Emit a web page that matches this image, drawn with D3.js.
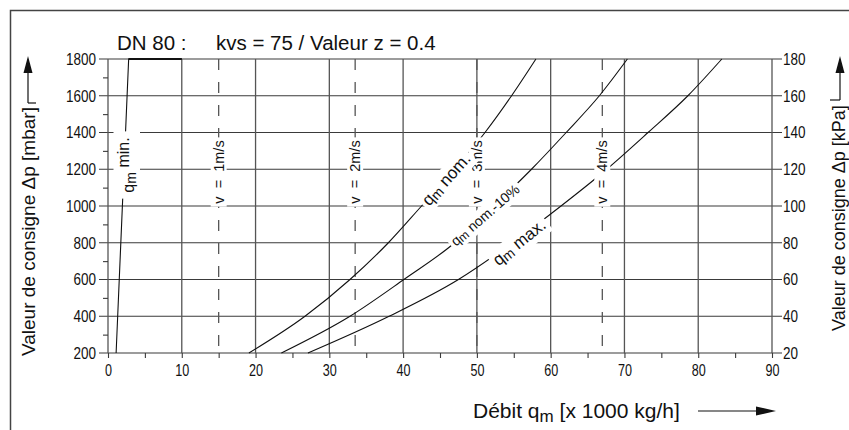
<!DOCTYPE html>
<html>
<head>
<meta charset="utf-8">
<script src="https://cdn.jsdelivr.net/npm/d3@7"></script>
<style>
  html, body { margin: 0; padding: 0; background: #fff; }
  svg { display: block; }
  text { font-family: "Liberation Sans", Arial, sans-serif; fill: #111; }
  .tick text { font-family: "Liberation Sans Narrow", "Liberation Sans", sans-serif; }
</style>
</head>
<body>
<svg id="chart" width="849" height="430"></svg>
<script>
// ---------------- data ----------------
const title1 = "DN 80 :";
const title2 = "kvs = 75 / Valeur z = 0.4";
const xTicks = [0, 10, 20, 30, 40, 50, 60, 70, 80, 90];          // débit x1000 kg/h
const mbarTicks = [200, 400, 600, 800, 1000, 1200, 1400, 1600, 1800];
const kpaTicks = [20, 40, 60, 80, 100, 120, 140, 160, 180];
const dpLevels = [200, 400, 600, 800, 1000, 1200, 1400, 1600, 1800]; // mbar
const qmNom = [19.1, 26.7, 32.8, 38.0, 42.5, 47.0, 51.1, 54.7, 58.0];
const qmNom10 = [23.5, 32.8, 40.1, 47.0, 52.3, 57.4, 62.1, 66.6, 70.4];
const qmMax = [27.1, 38.1, 47.5, 54.8, 61.4, 67.6, 73.2, 78.6, 83.2];
const qmMinX = [1.1, 2.8, 10];
const qmMinY = [200, 1800, 1800];
const velocities = [1, 2, 3, 4];            // m/s
const velocityQm = [15, 33.5, 50, 67];      // position on débit axis

// ---------------- setup ----------------
const svg = d3.select("#chart");
const x = d3.scaleLinear().domain([0, 90]).range([108, 772]);
const y = d3.scaleLinear().domain([200, 1800]).range([353, 59]);
const yk = d3.scaleLinear().domain([20, 180]).range([353, 59]);
const gridCol = "#3a3a3a";

// outer frame (top + left)
svg.append("path").attr("d", "M10.5,430 L10.5,10.5 L849,10.5")
  .attr("fill", "none").attr("stroke", "#444").attr("stroke-width", 1.5);

// title
svg.append("text").attr("x", 117).attr("y", 50).attr("font-size", 20.5).text(title1);
svg.append("text").attr("x", 216).attr("y", 50).attr("font-size", 20.5).text(title2);

// horizontal grid (extends a bit beyond both axes)
svg.append("g").selectAll("line").data(mbarTicks).join("line")
  .attr("x1", 99).attr("x2", 782)
  .attr("y1", d => y(d)).attr("y2", d => y(d))
  .attr("stroke", gridCol).attr("stroke-width", 1.1);

// vertical grid
svg.append("g").selectAll("line").data(xTicks).join("line")
  .attr("x1", d => x(d)).attr("x2", d => x(d))
  .attr("y1", y(1800)).attr("y2", y(200))
  .attr("stroke", "#555").attr("stroke-width", 1.3);

function condense(sel, perChar) {
  sel.each(function () {
    const s = d3.select(this);
    const n = (s.text() || "").length;
    if (n) s.attr("textLength", n * perChar).attr("lengthAdjust", "spacingAndGlyphs");
  });
}

// bottom axis: ticks every 5, labels every 10
const xAxis = d3.axisBottom(x).tickValues(d3.range(0, 91, 5)).tickSize(5).tickPadding(6)
  .tickFormat(d => d % 10 === 0 ? String(d) : "");
const gx = svg.append("g").attr("transform", `translate(0,${y(200)})`).call(xAxis);
gx.select(".domain").remove();
gx.selectAll(".tick line").attr("stroke", gridCol).attr("stroke-width", 1.1);
gx.selectAll(".tick text").attr("font-size", 17).attr("fill", "#3a3a3a").call(condense, 7);

// left axis: minor ticks every 100
const yAxis = d3.axisLeft(y).tickValues(d3.range(300, 1800, 200)).tickSize(5).tickFormat("");
const gy = svg.append("g").attr("transform", `translate(${x(0)},0)`).call(yAxis);
gy.select(".domain").remove();
gy.selectAll(".tick line").attr("stroke", gridCol).attr("stroke-width", 1.1);
const yAxisL = d3.axisLeft(y).tickValues(mbarTicks).tickSize(9).tickPadding(3).tickFormat(d => String(d));
const gyl = svg.append("g").attr("transform", `translate(${x(0)},0)`).call(yAxisL);
gyl.select(".domain").remove();
gyl.selectAll(".tick line").remove();
gyl.selectAll(".tick text").attr("font-size", 17).attr("fill", "#3a3a3a").call(condense, 7.5);

// right axis labels (kPa)
const yAxisR = d3.axisRight(yk).tickValues(kpaTicks).tickSize(10).tickPadding(1).tickFormat(d => String(d));
const gyr = svg.append("g").attr("transform", `translate(${x(90)},0)`).call(yAxisR);
gyr.select(".domain").remove();
gyr.selectAll(".tick line").remove();
gyr.selectAll(".tick text").attr("font-size", 17).attr("fill", "#3a3a3a").call(condense, 7.5);

// velocity dashed lines
svg.append("g").selectAll("line").data(velocityQm).join("line")
  .attr("x1", d => x(d)).attr("x2", d => x(d))
  .attr("y1", y(1800)).attr("y2", y(200) - 1)
  .attr("stroke", "#555").attr("stroke-width", 1.3)
  .attr("stroke-dasharray", "11,12");

// curves
const line = d3.line().x(d => x(d[0])).y(d => y(d[1])).curve(d3.curveMonotoneX);
const curveData = [qmNom, qmNom10, qmMax].map(arr => arr.map((q, i) => [q, dpLevels[i]]));
svg.append("g").selectAll("path").data(curveData).join("path")
  .attr("d", line).attr("fill", "none").attr("stroke", "#111").attr("stroke-width", 1.1);

// qm min
const minPts = qmMinX.map((q, i) => [q, qmMinY[i]]);
svg.append("path").attr("d", d3.line().x(d => x(d[0])).y(d => y(d[1]))(minPts))
  .attr("fill", "none").attr("stroke", "#111").attr("stroke-width", 1.1);
svg.append("path").attr("d", d3.line().x(d => x(d[0])).y(d => y(d[1]))(minPts.slice(1)))
  .attr("fill", "none").attr("stroke", "#111").attr("stroke-width", 2.2);

// helper for labels with white background
function label(cx, cy, angle, size, parts, padX, padY) {
  const g = svg.append("g").attr("transform", `translate(${cx},${cy}) rotate(${angle})`);
  const rect = g.append("rect").attr("fill", "#fff");
  const t = g.append("text").attr("font-size", size).attr("text-anchor", "middle")
    .attr("dominant-baseline", "central").style("white-space", "pre");
  parts.forEach(p => {
    const ts = t.append("tspan").text(p.t);
    if (p.dy) ts.attr("dy", p.dy);
    if (p.fs) ts.attr("font-size", p.fs);
  });
  const bb = t.node().getBBox();
  rect.attr("x", bb.x - padX).attr("y", bb.y - padY)
    .attr("width", bb.width + 2 * padX).attr("height", bb.height + 2 * padY);
  return g;
}

// velocity labels
velocityQm.forEach((q, i) => {
  label(x(q), 172, -90, 14.5, [{ t: `v  =  ${velocities[i]}m/s` }], 3, 0);
});

// curve labels
label(128, 165, -90, 16, [{ t: "q" }, { t: "m", dy: 3, fs: 14 }, { t: " min.", dy: -8 }], 6, 1);
label(446, 179, -48, 17, [{ t: "q" }, { t: "m", dy: 3, fs: 14 }, { t: " nom.", dy: -3 }], 3, 1);
label(485, 215, -41, 14, [{ t: "q" }, { t: "m", dy: 2, fs: 12 }, { t: " nom.-10%", dy: -2 }], 3, 1);
label(519, 242, -39, 17, [{ t: "q" }, { t: "m", dy: 3, fs: 14 }, { t: " max.", dy: -3 }], 3, 1);

// axis titles
svg.append("text").attr("transform", "translate(35,356) rotate(-90)")
  .attr("font-size", 19).text("Valeur de consigne Δp [mbar]");
svg.append("text").attr("transform", "translate(845,331) rotate(-90)")
  .attr("font-size", 18).text("Valeur de consigne Δp [kPa]");
const xt = svg.append("text").attr("x", 473).attr("y", 418).attr("font-size", 21);
xt.append("tspan").text("Débit q");
xt.append("tspan").attr("dy", 4).attr("font-size", 17).text("m");
xt.append("tspan").attr("dy", -4).text(" [x 1000 kg/h]");

// arrows
function arrowUp(ax, yTop, yBottom) {
  svg.append("line").attr("x1", ax).attr("x2", ax).attr("y1", yTop + 14).attr("y2", yBottom)
    .attr("stroke", "#111").attr("stroke-width", 1.2);
  svg.append("path").attr("d", `M${ax},${yTop} L${ax - 4.5},${yTop + 17} L${ax + 4.5},${yTop + 17} Z`)
    .attr("fill", "#111");
}
arrowUp(28, 56, 103);
arrowUp(840, 56, 100);
svg.append("line").attr("x1", 28).attr("x2", 36).attr("y1", 103).attr("y2", 103).attr("stroke", "#111").attr("stroke-width", 1.2);
svg.append("line").attr("x1", 830).attr("x2", 840).attr("y1", 100).attr("y2", 100).attr("stroke", "#111").attr("stroke-width", 1.2);
svg.append("line").attr("x1", 698).attr("x2", 760).attr("y1", 411).attr("y2", 411)
  .attr("stroke", "#111").attr("stroke-width", 1.2);
svg.append("path").attr("d", "M776,411 L756,406.5 L756,415.5 Z").attr("fill", "#111");
</script>
</body>
</html>
